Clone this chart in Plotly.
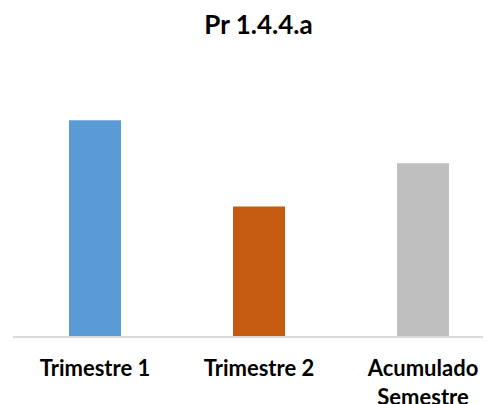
import plotly.graph_objects as go

categories = ["Trimestre 1", "Trimestre 2", "Acumulado<br>Semestre"]
values = [5, 3, 4]
colors = ["#5B9BD5", "#C55A11", "#BFBFBF"]

# page body has an 8px margin; compensate so the chart lands where the reference has it
W, H = 483, 396

fig = go.Figure(go.Bar(x=list(range(len(categories))), y=values, marker_color=colors,
                       marker_line_width=0, width=0.317))

fig.update_layout(
    width=W, height=H,
    margin=dict(l=5, r=0, t=69, b=68),
    paper_bgcolor="white", plot_bgcolor="white",
    showlegend=False,
    title=dict(text="<b>Pr 1.4.4.a</b>", x=(258.5 - 8) / W, xanchor="center", y=1 - 17 / H, yanchor="middle",
               font=dict(family="Lato", size=26, color="black")),
    font=dict(family="Lato", color="black"),
)
fig.update_xaxes(range=[-0.5, 2.4146], tickvals=list(range(len(categories))),
                 ticktext=["<b>%s</b>" % c for c in categories], automargin=False,
                 showline=True, linecolor="#D9D9D9", linewidth=1.5, showgrid=False, zeroline=False,
                 ticks="", ticklabelstandoff=12, tickfont=dict(family="Lato", size=22, color="black"))
fig.update_yaxes(range=[0, 6], visible=False, showgrid=False, zeroline=False, automargin=False)

fig.write_html("out.html")
